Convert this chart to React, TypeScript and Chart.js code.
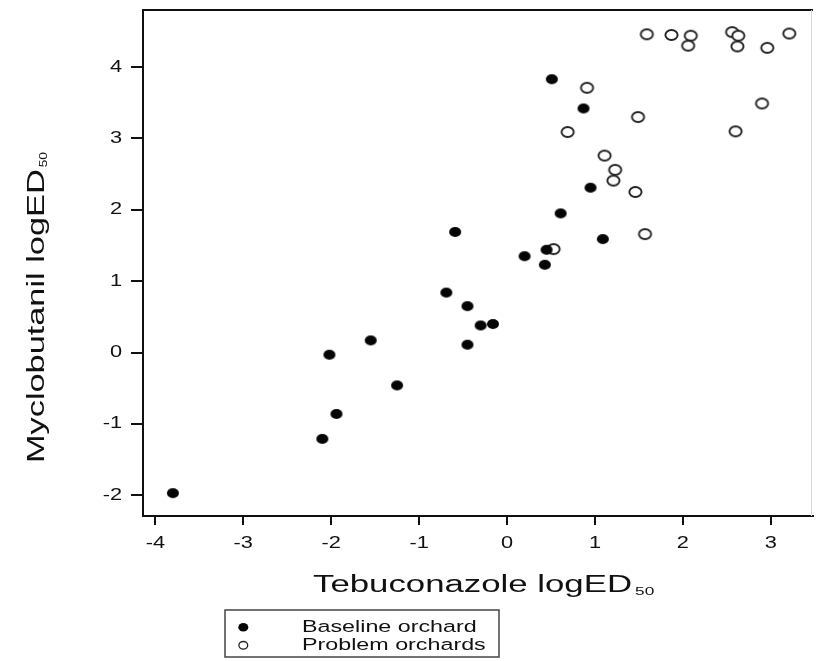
import React, { useEffect, useRef } from 'react';
import { Chart, registerables } from 'chart.js';

Chart.register(...registerables);

const baselineX = [-3.80, -2.10, -1.94, -2.02, -1.55, -1.25, -0.69, -0.45, -0.45, -0.30, -0.16, -0.59, 0.20, 0.43, 0.45, 0.61, 0.95, 1.09, 0.87, 0.51];
const baselineY = [-1.97, -1.21, -0.86, -0.03, 0.17, -0.46, 0.84, 0.65, 0.11, 0.38, 0.40, 1.69, 1.35, 1.23, 1.44, 1.95, 2.31, 1.59, 3.42, 3.83];

const problemX = [1.59, 1.87, 2.09, 2.06, 2.56, 2.63, 2.62, 2.96, 3.21, 0.91, 2.90, 1.49, 0.69, 2.60, 1.11, 1.23, 1.21, 1.46, 1.57, 0.53];
const problemY = [4.46, 4.45, 4.44, 4.30, 4.49, 4.44, 4.29, 4.27, 4.47, 3.71, 3.49, 3.30, 3.09, 3.10, 2.76, 2.56, 2.41, 2.25, 1.66, 1.45];

const xTicks = [-4, -3, -2, -1, 0, 1, 2, 3];
const yTicks = [-2, -1, 0, 1, 2, 3, 4];

const xTitle = 'Tebuconazole logED';
const yTitle = 'Myclobutanil logED';
const titleSub = '50';
const legendLabels = ['Baseline orchard', 'Problem orchards'];

const FONT = '"Liberation Sans", Arial, Helvetica, sans-serif';
const INK = '#111';

function makeEllipse(rx: number, ry: number, filled: boolean, lw: number) {
  const c = document.createElement('canvas');
  const w = Math.ceil(2 * rx + lw + 2);
  const h = Math.ceil(2 * ry + lw + 2);
  c.width = w;
  c.height = h;
  const g = c.getContext('2d')!;
  g.beginPath();
  g.ellipse(w / 2, h / 2, rx, ry, 0, 0, Math.PI * 2);
  if (filled) {
    g.fillStyle = '#050505';
    g.fill();
  } else {
    g.fillStyle = '#fff';
    g.fill();
    g.lineWidth = lw;
    g.strokeStyle = '#222';
    g.stroke();
  }
  return c;
}

function stretchedText(
  ctx: CanvasRenderingContext2D,
  text: string,
  x: number,
  y: number,
  size: number,
  sx: number,
  align: CanvasTextAlign,
  baseline: CanvasTextBaseline,
  rotate = 0
) {
  ctx.save();
  ctx.translate(x, y);
  if (rotate) ctx.rotate(rotate);
  ctx.scale(sx, 1);
  ctx.font = `${size}px ${FONT}`;
  ctx.fillStyle = INK;
  ctx.textAlign = align;
  ctx.textBaseline = baseline;
  ctx.fillText(text, 0, 0);
  const w = ctx.measureText(text).width * sx;
  ctx.restore();
  return w;
}

const decorPlugin = {
  id: 'decor',
  afterDraw(chart: any) {
    const { ctx, chartArea, scales } = chart;
    const xs = scales.x;
    const ys = scales.y;
    ctx.save();
    ctx.strokeStyle = INK;
    ctx.lineWidth = 2;
    ctx.beginPath();
    ctx.moveTo(chartArea.left - 1, chartArea.top);
    ctx.lineTo(chartArea.right, chartArea.top);
    ctx.stroke();
    ctx.strokeStyle = '#d8d8d8';
    ctx.lineWidth = 1;
    ctx.beginPath();
    ctx.moveTo(chartArea.right - 1.5, chartArea.top);
    ctx.lineTo(chartArea.right - 1.5, chartArea.bottom);
    ctx.stroke();
    ctx.restore();

    xTicks.forEach((v) => {
      stretchedText(ctx, String(v), xs.getPixelForValue(v), 543.5, 16.5, 1.32, 'center', 'middle');
    });
    yTicks.forEach((v) => {
      stretchedText(ctx, String(v), 122, ys.getPixelForValue(v), 16.5, 1.32, 'right', 'middle');
    });

    const w1 = stretchedText(ctx, xTitle, 313, 592, 23.5, 1.48, 'left', 'alphabetic');
    stretchedText(ctx, titleSub, 313 + w1 + 3, 595, 11.5, 1.5, 'left', 'alphabetic');

    ctx.save();
    ctx.translate(43.5, 463);
    ctx.rotate(-Math.PI / 2);
    const w2 = stretchedText(ctx, yTitle, 0, 0, 23.5, 1.46, 'left', 'alphabetic');
    stretchedText(ctx, titleSub, w2 + 2, 3.5, 11.5, 1.2, 'left', 'alphabetic');
    ctx.restore();

    ctx.save();
    ctx.fillStyle = '#fff';
    ctx.fillRect(225, 610, 274, 47);
    ctx.strokeStyle = '#444';
    ctx.lineWidth = 1.5;
    ctx.strokeRect(225, 610, 274, 47);
    ctx.beginPath();
    ctx.ellipse(243.3, 627.3, 5, 4.3, 0, 0, Math.PI * 2);
    ctx.fillStyle = '#050505';
    ctx.fill();
    ctx.beginPath();
    ctx.ellipse(243.3, 645.3, 4.4, 3.8, 0, 0, Math.PI * 2);
    ctx.strokeStyle = '#222';
    ctx.lineWidth = 1.3;
    ctx.stroke();
    ctx.restore();
    stretchedText(ctx, legendLabels[0], 302, 631.7, 16.3, 1.43, 'left', 'alphabetic');
    stretchedText(ctx, legendLabels[1], 302, 649.5, 16.3, 1.43, 'left', 'alphabetic');
  },
};

export default function App() {
  const ref = useRef<HTMLCanvasElement | null>(null);

  useEffect(() => {
    if (!ref.current) return;
    const filled = makeEllipse(6, 4.9, true, 0);
    const open = makeEllipse(6.1, 5, false, 1.9);
    const chart = new Chart(ref.current, {
      type: 'scatter',
      data: {
        datasets: [
          {
            label: legendLabels[0],
            data: baselineX.map((x, i) => ({ x, y: baselineY[i] })),
            pointStyle: filled as any,
            pointRadius: 6,
          },
          {
            label: legendLabels[1],
            data: problemX.map((x, i) => ({ x, y: problemY[i] })),
            pointStyle: open as any,
            pointRadius: 6,
          },
        ],
      },
      options: {
        responsive: false,
        animation: false,
        events: [],
        devicePixelRatio: 1,
        layout: { padding: { top: 10, right: 2, left: 0, bottom: 0 } },
        plugins: {
          legend: { display: false },
          tooltip: { enabled: false },
          title: { display: false },
        },
        scales: {
          x: {
            type: 'linear',
            min: -4.14,
            max: 3.48,
            afterBuildTicks: (s: any) => {
              s.ticks = xTicks.map((v) => ({ value: v }));
            },
            afterFit: (s: any) => {
              s.height = 145;
            },
            ticks: { display: false },
            grid: {
              display: true,
              drawOnChartArea: false,
              drawTicks: true,
              tickLength: 9,
              color: INK,
              lineWidth: 2,
            },
            border: { display: true, color: INK, width: 2 },
          },
          y: {
            type: 'linear',
            min: -2.29,
            max: 4.8,
            afterBuildTicks: (s: any) => {
              s.ticks = yTicks.map((v) => ({ value: v }));
            },
            afterFit: (s: any) => {
              s.width = 143;
            },
            ticks: { display: false },
            grid: {
              display: true,
              drawOnChartArea: false,
              drawTicks: true,
              tickLength: 12,
              color: INK,
              lineWidth: 2,
            },
            border: { display: true, color: INK, width: 2 },
          },
        },
      },
      plugins: [decorPlugin],
    });
    return () => chart.destroy();
  }, []);

  return (
    <div style={{ position: 'absolute', left: 0, top: 0, width: 820, height: 661, background: '#fff' }}>
      <canvas ref={ref} width={820} height={661} style={{ display: 'block' }} />
    </div>
  );
}
